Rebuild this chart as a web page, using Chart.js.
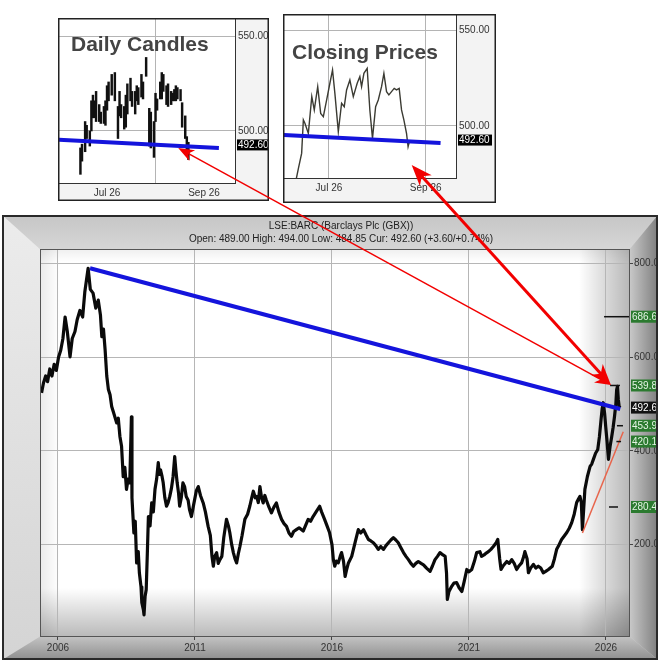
<!DOCTYPE html>
<html><head><meta charset="utf-8">
<script src="https://cdn.jsdelivr.net/npm/chart.js@4.4.1/dist/chart.umd.min.js"></script>
<style>
html,body{margin:0;padding:0;background:#fff;width:663px;height:661px;overflow:hidden;}
canvas{position:absolute;display:block;}
#mainChart{left:2px;top:215px;}
#candleChart{left:58px;top:18px;}
#closeChart{left:283px;top:14px;}
#overlay{left:0;top:0;pointer-events:none;z-index:10;}
</style></head>
<body>
<canvas id="mainChart" width="656" height="445"></canvas>
<canvas id="candleChart" width="211" height="183"></canvas>
<canvas id="closeChart" width="213" height="189"></canvas>
<canvas id="overlay" width="663" height="661"></canvas>
<script>
// ---------------- DATA ----------------
const instrumentName = 'LSE:BARC (Barclays Plc (GBX))';
const quoteOpen = 489.00, quoteHigh = 494.00, quoteLow = 484.85, quoteCur = 492.60, quoteChange = 3.60, quoteChangePct = 0.74;

// main chart: decimal years and prices (GBX)
const mainYears = [
2005.40,2005.47,2005.55,2005.62,2005.70,2005.78,2005.86,2005.94,
2006.02,2006.10,2006.18,2006.26,2006.34,2006.44,2006.52,2006.62,2006.70,2006.80,2006.90,2006.98,
2007.10,2007.18,2007.28,2007.38,2007.47,2007.55,2007.60,2007.66,2007.72,2007.78,2007.84,2007.90,2007.96,
2008.05,2008.14,2008.20,2008.26,2008.32,2008.38,2008.44,2008.50,2008.56,2008.62,2008.68,2008.70,2008.77,2008.82,2008.87,2008.93,2008.97,
2009.03,2009.06,2009.12,2009.14,2009.18,2009.22,2009.26,2009.30,2009.36,2009.42,2009.48,2009.54,2009.60,2009.66,2009.70,2009.74,2009.80,2009.84,2009.90,2009.96,
2010.02,2010.08,2010.14,2010.20,2010.26,2010.30,2010.35,2010.40,2010.44,2010.50,2010.56,2010.62,2010.68,2010.75,2010.80,2010.87,2010.95,
2011.05,2011.12,2011.20,2011.30,2011.38,2011.48,2011.56,2011.62,2011.67,2011.72,2011.79,2011.85,2011.91,2011.98,
2012.05,2012.15,2012.22,2012.27,2012.34,2012.40,2012.46,2012.52,2012.58,2012.64,2012.72,2012.82,2012.92,
2013.00,2013.07,2013.13,2013.20,2013.25,2013.31,2013.37,2013.43,2013.49,2013.55,2013.60,2013.70,2013.79,2013.88,2013.97,
2014.06,2014.16,2014.25,2014.34,2014.43,2014.52,2014.60,2014.70,2014.80,2014.95,
2015.03,2015.13,2015.22,2015.31,2015.42,2015.55,2015.62,2015.73,2015.82,2015.91,
2016.00,2016.05,2016.10,2016.16,2016.23,2016.30,2016.35,2016.42,2016.48,2016.54,2016.60,2016.72,2016.84,2016.96,
2017.05,2017.15,2017.25,2017.33,2017.42,2017.51,2017.60,2017.69,2017.78,2017.88,2017.97,
2018.06,2018.15,2018.24,2018.33,2018.42,2018.50,2018.61,2018.70,2018.79,2018.88,2018.97,
2019.06,2019.15,2019.25,2019.34,2019.45,2019.58,2019.67,2019.76,2019.85,2019.94,
2020.05,2020.13,2020.18,2020.21,2020.27,2020.37,2020.45,2020.55,2020.64,2020.74,2020.82,2020.92,
2021.00,2021.10,2021.20,2021.28,2021.40,2021.46,2021.55,2021.63,2021.71,2021.80,2021.89,
2022.00,2022.05,2022.12,2022.17,2022.25,2022.38,2022.47,2022.56,2022.65,2022.74,2022.83,2022.92,
2023.00,2023.04,2023.12,2023.17,2023.25,2023.35,2023.44,2023.53,2023.62,2023.71,2023.80,2023.90,
2024.04,2024.12,2024.20,2024.29,2024.38,2024.47,2024.57,2024.66,2024.75,2024.84,2024.93,
2025.00,2025.05,2025.10,2025.14,2025.18,2025.23,2025.32,2025.42,2025.48,2025.54,2025.62,2025.70,2025.76,2025.82,2025.86,2025.90,2025.95,2025.99,
2026.04,2026.09,2026.15,2026.21,2026.26,2026.31,2026.36,2026.39,2026.42,2026.45,2026.48,2026.52
];
const mainCloses = [
524,545,560,548,575,560,585,572,
600,615,640,686,655,601,640,655,680,700,686,740,
790,745,737,705,722,690,644,660,616,560,531,520,495,
478,460,470,431,410,345,365,318,340,332,473,300,225,250,161,185,140,
110,76,60,50,90,104,180,260,240,289,270,318,340,375,350,360,345,332,300,282,
290,303,320,345,388,360,332,310,282,300,332,324,303,295,275,260,285,
315,324,305,289,270,239,220,175,154,175,183,160,168,175,
215,254,240,226,200,183,170,161,180,196,220,254,265,
282,300,314,300,303,290,324,300,289,305,296,280,268,280,289,
270,254,245,239,225,218,228,232,236,229,
240,254,250,260,270,282,270,254,240,226,
200,168,154,165,161,175,183,165,132,148,161,175,204,232,
225,232,220,211,208,204,198,190,196,190,198,
204,210,215,210,204,195,183,175,168,160,154,
160,164,160,157,150,143,155,168,175,183,
178,175,140,83,100,111,118,119,108,100,120,147,
142,147,165,183,185,175,178,182,185,190,196,
205,211,170,147,155,164,160,168,160,147,155,161,
175,185,170,140,150,158,150,154,150,140,143,147,
154,170,190,200,211,218,226,235,247,265,290,
298,303,290,232,270,318,345,367,372,382,395,403,430,467,490,503,480,452,
420,382,410,431,450,473,500,531,538,510,495,492.6
];

// overlays on the main chart
const resistanceYears = [2007.17, 2026.52];
const resistanceValues = [790, 489.7];
const supportYears = [2025.14, 2026.63];
const supportValues = [225, 441];
const levelValues = [686.6, 539.8, 453.9, 420.1, 280.4];
const levelStartYears = [2025.93, 2026.15, 2026.40, 2026.38, 2026.11];
const levelEndYears = [2026.84, 2026.51, 2026.62, 2026.55, 2026.44];
const xTickYears = [2006, 2011, 2016, 2021, 2026];
const yTickValues = [200, 400, 600, 800];

// insets: days counted from 1 Jul 2026
const insetTickDays = [0, 62];
const insetTickLabels = ['Jul 26', 'Sep 26'];
const insetTickValues = [500, 550];
const candleDays = [-17,-16,-14,-13,-11,-10,-9,-8,-7,-5,-4,-2,-1,0,1,3,5,7,8,9,11,12,13,15,16,18,19,20,22,23,25,27,28,30,31,32,34,35,36,38,39,41,42,43,44,45,47,48,50,51,52];
const candleHighs = [491,493,505,503,500,516,519,516,521,514,510,513,516,524,526,530,531,513,521,514,513,519,525,528,521,521,524,523,530,526,539,512,510,505,520,517,526,531,530,524,525,521,520,522,524,523,522,515,508,497,494];
const candleLows = [477,484,489,496,492,500,507,507,505,505,504,504,503,511,516,519,516,496,508,507,501,502,509,516,513,509,516,514,518,517,529,492,491,486,505,511,517,517,521,514,513,514,516,516,516,517,516,502,496,490,484.85];
const closeDays = [-22.5,-19.5,-17.5,-16.4,-15.4,-13.2,-11,-9.4,-7.2,-5.3,-3.6,-1.5,0.6,2.3,3.8,6,8.1,9.8,11.3,13.4,15.6,18.1,19.8,20.9,22.4,24.5,26.2,27.9,29.9,31.6,33.7,35.2,36.9,38.4,40.1,41.8,43.3,45,46.5,48,49.7,50.7,51.8];
const closeValues = [466,478,485.6,503.2,501.4,496.1,515.4,508.4,520.6,506.6,504.9,513.6,522.4,529.4,517.1,497,511.9,510.1,518.9,524.1,515.4,522.4,525.9,520.6,527.6,530.2,508.4,493.5,510.1,513.6,520.6,527.6,518,516.3,518,519.7,518.9,519.7,508.4,503.2,496.1,489.1,492.6];
const insetTrendDays = [-31, 71.5];
const insetTrendValues = [495.3, 491.0];

// arrows: [x, y] in each chart's own data units
const thinArrowInset = [45.5, 491];
const thickArrowInset = [53, 479.5];
const arrowMainTarget = [2026.18, 541];

// ---------------- STYLE ----------------
Chart.defaults.font.family = "'Liberation Sans', Arial, sans-serif";
Chart.defaults.font.size = 10;
Chart.defaults.color = '#333';
const BLUE = '#1414dc';
const pts = (xs, ys) => xs.map((x, i) => ({x, y: ys[i]}));

const mainBg = {
  id: 'mainBg',
  beforeDraw(c) {
    const ctx = c.ctx, W = c.width, H = c.height, a = c.chartArea;
    const L = a.left, T = a.top, R = a.right, B = a.bottom;
    ctx.save();
    ctx.fillStyle = '#cfcfcf'; ctx.fillRect(0, 0, W, H);
    let g;
    g = ctx.createLinearGradient(0, 0, 0, T);
    g.addColorStop(0, '#c6c6c6'); g.addColorStop(1, '#d6d6d6');
    ctx.fillStyle = g; ctx.beginPath(); ctx.moveTo(0,0); ctx.lineTo(W,0); ctx.lineTo(R,T); ctx.lineTo(L,T); ctx.closePath(); ctx.fill();
    g = ctx.createLinearGradient(0, 0, 0, H);
    g.addColorStop(0, '#ececec'); g.addColorStop(1, '#d4d4d4');
    ctx.fillStyle = g; ctx.beginPath(); ctx.moveTo(0,0); ctx.lineTo(L,T); ctx.lineTo(L,B); ctx.lineTo(0,H); ctx.closePath(); ctx.fill();
    g = ctx.createLinearGradient(0, B, 0, H);
    g.addColorStop(0, '#c4c4c4'); g.addColorStop(1, '#8e8e8e');
    ctx.fillStyle = g; ctx.beginPath(); ctx.moveTo(0,H); ctx.lineTo(L,B); ctx.lineTo(R,B); ctx.lineTo(W,H); ctx.closePath(); ctx.fill();
    g = ctx.createLinearGradient(R, 0, W, 0);
    g.addColorStop(0, '#cacaca'); g.addColorStop(1, '#7e7e7e');
    ctx.fillStyle = g; ctx.beginPath(); ctx.moveTo(W,0); ctx.lineTo(W,H); ctx.lineTo(R,B); ctx.lineTo(R,T); ctx.closePath(); ctx.fill();
    ctx.fillStyle = '#fff'; ctx.fillRect(L, T, R-L, B-T);
    g = ctx.createLinearGradient(L, 0, L+18, 0);
    g.addColorStop(0, 'rgba(0,0,0,0.08)'); g.addColorStop(1, 'rgba(0,0,0,0)');
    ctx.fillStyle = g; ctx.fillRect(L, T, 18, B-T);
    g = ctx.createLinearGradient(0, T, 0, T+12);
    g.addColorStop(0, 'rgba(0,0,0,0.06)'); g.addColorStop(1, 'rgba(0,0,0,0)');
    ctx.fillStyle = g; ctx.fillRect(L, T, R-L, 12);
    g = ctx.createLinearGradient(0, B-48, 0, B);
    g.addColorStop(0, 'rgba(0,0,0,0)'); g.addColorStop(1, 'rgba(0,0,0,0.27)');
    ctx.fillStyle = g; ctx.fillRect(L, B-48, R-L, 48);
    g = ctx.createLinearGradient(R-50, 0, R, 0);
    g.addColorStop(0, 'rgba(0,0,0,0)'); g.addColorStop(1, 'rgba(0,0,0,0.28)');
    ctx.fillStyle = g; ctx.fillRect(R-50, T, 50, B-T);
    ctx.restore();
  },
  beforeDatasetsDraw(c) {
    const ctx = c.ctx, a = c.chartArea;
    ctx.save(); ctx.strokeStyle = '#555'; ctx.lineWidth = 1;
    ctx.strokeRect(a.left - 0.5, a.top - 0.5, a.right - a.left + 1, a.bottom - a.top + 1);
    ctx.restore();
  },
  afterDraw(c) {
    const ctx = c.ctx, a = c.chartArea, ys = c.scales.y;
    ctx.save();
    ctx.fillStyle = '#222'; ctx.font = "10px 'Liberation Sans', Arial, sans-serif";
    ctx.textAlign = 'center'; ctx.textBaseline = 'middle';
    const cx = (a.left + a.right) / 2 + 6;
    ctx.fillText(instrumentName, cx, 11);
    ctx.fillText('Open: ' + quoteOpen.toFixed(2) + ' High: ' + quoteHigh.toFixed(2) + ' Low: ' + quoteLow.toFixed(2) +
      ' Cur: ' + quoteCur.toFixed(2) + ' (+' + quoteChange.toFixed(2) + '/+' + quoteChangePct.toFixed(2) + '%)', cx, 24);
    ctx.textAlign = 'left';
    const box = (v, bg, fg) => {
      const y = ys.getPixelForValue(v);
      ctx.fillStyle = bg; ctx.fillRect(a.right + 2, y - 6, 30, 12);
      ctx.fillStyle = fg; ctx.fillText(v.toFixed(2), a.right + 3, y + 0.5);
    };
    levelValues.forEach(v => box(v, '#2b7a2f', '#e4f4e4'));
    box(quoteCur, '#111', '#fff');
    ctx.strokeStyle = '#2a2a2a'; ctx.lineWidth = 2;
    ctx.strokeRect(1, 1, c.width - 2, c.height - 2);
    ctx.restore();
  }
};

const levelSets = levelValues.map((v, i) => ({
  data: [{x: levelStartYears[i], y: v}, {x: levelEndYears[i], y: v}],
  borderColor: '#111', borderWidth: 1.5, pointRadius: 0
}));

const mainChart = new Chart(document.getElementById('mainChart'), {
  type: 'line',
  data: { datasets: [
    { data: pts(mainYears, mainCloses), borderColor: '#0a0a0a', borderWidth: 3.2, pointRadius: 0, tension: 0, borderJoinStyle: 'round', order: 5 },
    { data: pts(resistanceYears, resistanceValues), borderColor: BLUE, borderWidth: 4, pointRadius: 0, order: 1 },
    { data: pts(supportYears, supportValues), borderColor: '#e8654c', borderWidth: 1.5, pointRadius: 0, order: 2 },
    ...levelSets
  ]},
  options: {
    responsive: false, animation: false, events: [],
    layout: { padding: { left: 39, top: 35, right: 0, bottom: 0 } },
    plugins: { legend: { display: false }, tooltip: { enabled: false } },
    scales: {
      x: { type: 'linear', min: 2005.38, max: 2026.84,
        afterBuildTicks: s => { s.ticks = xTickYears.map(v => ({value: v})); },
        afterFit: s => { s.height = 24; },
        ticks: { callback: v => String(v), color: '#333', padding: 2, maxRotation: 0, autoSkip: false },
        grid: { color: '#b6b6b6', tickColor: '#444', tickLength: 4 },
        border: { color: '#222', width: 1 } },
      y: { position: 'right', min: 5, max: 829,
        afterBuildTicks: s => { s.ticks = yTickValues.map(v => ({value: v})); },
        afterFit: s => { s.width = 29; },
        ticks: { callback: v => Number(v).toFixed(2), color: '#333', padding: 1, crossAlign: 'near' },
        grid: { color: '#b6b6b6', tickColor: '#444', tickLength: 4 },
        border: { color: '#222', width: 1 } }
    }
  },
  plugins: [mainBg]
});

function insetPlugin(title, tx, ty) {
  return {
    id: 'inset' + tx,
    beforeDraw(c) {
      const ctx = c.ctx, a = c.chartArea;
      ctx.save();
      ctx.fillStyle = '#f3f3f3'; ctx.fillRect(0, 0, c.width, c.height);
      ctx.fillStyle = '#fff'; ctx.fillRect(a.left, a.top, a.right - a.left, a.bottom - a.top);
      ctx.restore();
    },
    afterDraw(c) {
      const ctx = c.ctx, a = c.chartArea, ys = c.scales.y;
      ctx.save();
      ctx.fillStyle = '#444'; ctx.font = "bold 21px 'Liberation Sans', Arial, sans-serif";
      ctx.textBaseline = 'alphabetic'; ctx.textAlign = 'left';
      ctx.fillText(title, tx, ty);
      const y = ys.getPixelForValue(quoteCur);
      ctx.fillStyle = '#000'; ctx.fillRect(a.right + 2, y - 5.5, 34, 11);
      ctx.fillStyle = '#fff'; ctx.font = "10px 'Liberation Sans', Arial, sans-serif";
      ctx.textBaseline = 'middle'; ctx.fillText(quoteCur.toFixed(2), a.right + 3, y + 0.5);
      ctx.strokeStyle = '#222'; ctx.lineWidth = 1.5;
      ctx.strokeRect(0.75, 0.75, c.width - 1.5, c.height - 1.5);
      ctx.restore();
    }
  };
}

function insetScales(xmin, xmax, ymin, ymax, xh, yw) {
  return {
    x: { type: 'linear', min: xmin, max: xmax, offset: false,
      afterBuildTicks: s => { s.ticks = insetTickDays.map(v => ({value: v})); },
      afterFit: s => { s.height = xh; s.paddingLeft = 0; s.paddingRight = 0; },
      ticks: { callback: (v, i) => insetTickLabels[i], color: '#333', padding: 4, maxRotation: 0, autoSkip: false },
      grid: { color: '#b4b4b4', drawTicks: false },
      border: { color: '#333' } },
    y: { position: 'right', min: ymin, max: ymax,
      afterBuildTicks: s => { s.ticks = insetTickValues.map(v => ({value: v})); },
      afterFit: s => { s.width = yw; s.paddingTop = 0; s.paddingBottom = 0; },
      ticks: { callback: v => Number(v).toFixed(2), color: '#333', padding: 3 },
      grid: { color: '#b4b4b4', drawTicks: false },
      border: { color: '#333' } }
  };
}

const candleChart = new Chart(document.getElementById('candleChart'), {
  type: 'bar',
  data: { datasets: [
    { type: 'bar', data: candleDays.map((d, i) => ({x: d, y: [candleLows[i], candleHighs[i]]})),
      backgroundColor: '#111', barThickness: 1.8, grouped: false, order: 2 },
    { type: 'line', data: pts(insetTrendDays, insetTrendValues), borderColor: BLUE, borderWidth: 4, pointRadius: 0, order: 1 }
  ]},
  options: {
    responsive: false, animation: false, events: [],
    layout: { padding: { left: 1, top: 1, right: 0, bottom: 0 } },
    plugins: { legend: { display: false }, tooltip: { enabled: false } },
    scales: insetScales(-30.7, 81.8, 472.4, 559.4, 18, 34)
  },
  plugins: [insetPlugin('Daily Candles', 13, 33)]
});

const closeChart = new Chart(document.getElementById('closeChart'), {
  type: 'line',
  data: { datasets: [
    { data: pts(closeDays, closeValues), borderColor: '#3b3b33', borderWidth: 1.4, pointRadius: 0, tension: 0, order: 2 },
    { data: pts(insetTrendDays, insetTrendValues), borderColor: BLUE, borderWidth: 4, pointRadius: 0, order: 1 }
  ]},
  options: {
    responsive: false, animation: false, events: [],
    layout: { padding: { left: 1, top: 1, right: 0, bottom: 0 } },
    plugins: { legend: { display: false }, tooltip: { enabled: false } },
    scales: insetScales(-28.8, 81.4, 472.7, 558.2, 25, 40)
  },
  plugins: [insetPlugin('Closing Prices', 9, 45)]
});

function drawOverlay() {
  const ov = document.getElementById('overlay'), ctx = ov.getContext('2d');
  ctx.clearRect(0, 0, ov.width, ov.height);
  const at = (chart, p) => {
    const r = chart.canvas.getBoundingClientRect();
    return [r.left + chart.scales.x.getPixelForValue(p[0]), r.top + chart.scales.y.getPixelForValue(p[1])];
  };
  function arrow(p1, p2, w, hl, hw) {
    const [x1, y1] = p1, [x2, y2] = p2;
    const ang = Math.atan2(y2 - y1, x2 - x1), c = Math.cos(ang), s = Math.sin(ang);
    ctx.strokeStyle = ctx.fillStyle = '#f20000';
    ctx.lineWidth = w; ctx.lineCap = 'butt';
    ctx.beginPath(); ctx.moveTo(x1 + c * hl * 0.7, y1 + s * hl * 0.7); ctx.lineTo(x2 - c * hl * 0.7, y2 - s * hl * 0.7); ctx.stroke();
    const head = (x, y, cc, ss) => {
      ctx.beginPath(); ctx.moveTo(x, y);
      ctx.lineTo(x - cc * hl - ss * hw, y - ss * hl + cc * hw);
      ctx.lineTo(x - cc * hl * 0.72, y - ss * hl * 0.72);
      ctx.lineTo(x - cc * hl + ss * hw, y - ss * hl - cc * hw);
      ctx.closePath(); ctx.fill();
    };
    head(x2, y2, c, s); head(x1, y1, -c, -s);
  }
  const target = at(mainChart, arrowMainTarget);
  arrow(at(candleChart, thinArrowInset), target, 1.5, 16, 6);
  arrow(at(closeChart, thickArrowInset), target, 3, 21, 8);
}
drawOverlay();
</script>
</body></html>
